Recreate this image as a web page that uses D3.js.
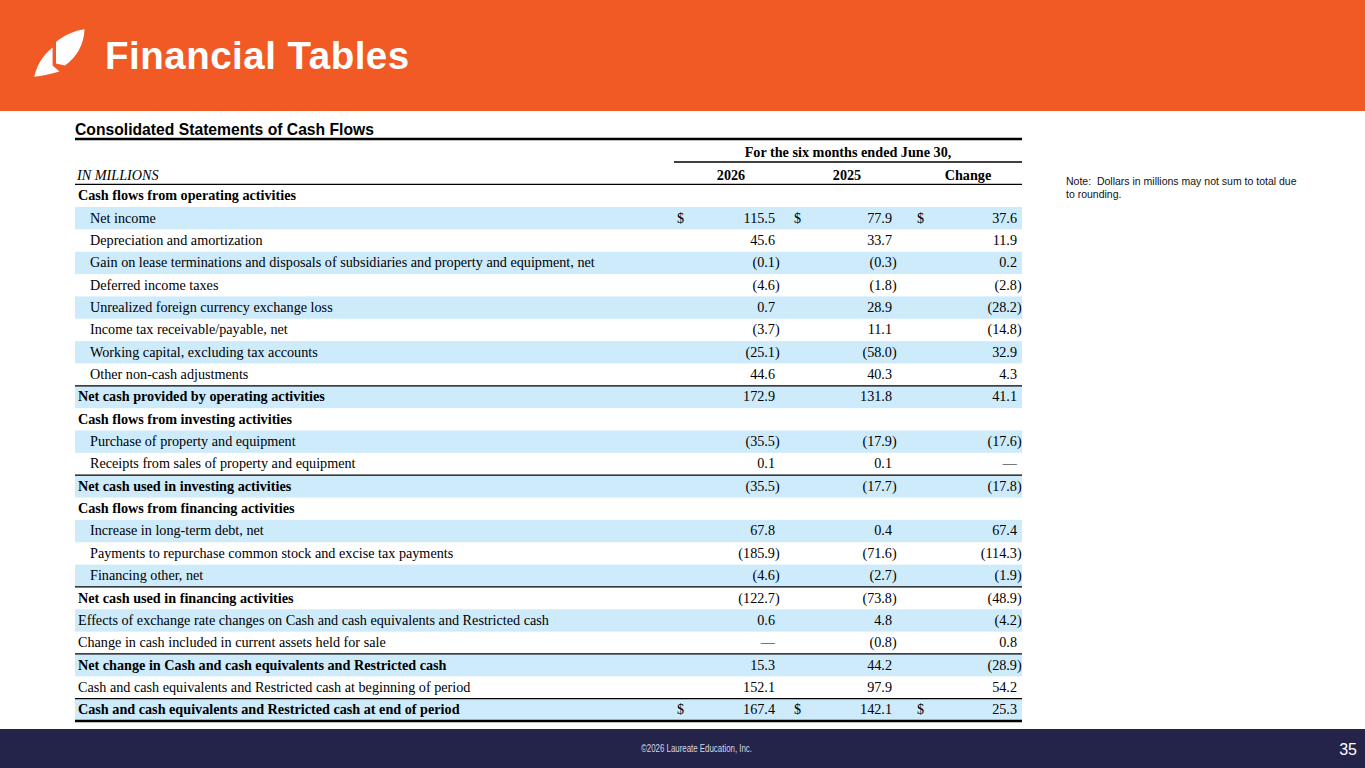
<!DOCTYPE html>
<html>
<head>
<meta charset="utf-8">
<script src="https://cdn.jsdelivr.net/npm/d3@7"></script>
<style>
  html, body { margin: 0; padding: 0; background: #fff; }
  svg { display: block; }
</style>
</head>
<body>
<svg id="chart" width="1365" height="768"></svg>
<script>
// ---------------- DATA ----------------
const rowLabels = [
  "Cash flows from operating activities",
  "Net income",
  "Depreciation and amortization",
  "Gain on lease terminations and disposals of subsidiaries and property and equipment, net",
  "Deferred income taxes",
  "Unrealized foreign currency exchange loss",
  "Income tax receivable/payable, net",
  "Working capital, excluding tax accounts",
  "Other non-cash adjustments",
  "Net cash provided by operating activities",
  "Cash flows from investing activities",
  "Purchase of property and equipment",
  "Receipts from sales of property and equipment",
  "Net cash used in investing activities",
  "Cash flows from financing activities",
  "Increase in long-term debt, net",
  "Payments to repurchase common stock and excise tax payments",
  "Financing other, net",
  "Net cash used in financing activities",
  "Effects of exchange rate changes on Cash and cash equivalents and Restricted cash",
  "Change in cash included in current assets held for sale",
  "Net change in Cash and cash equivalents and Restricted cash",
  "Cash and cash equivalents and Restricted cash at beginning of period",
  "Cash and cash equivalents and Restricted cash at end of period"
];
// h = section header, i = indented item, p = plain item, t = total
const rowKinds = ["h","i","i","i","i","i","i","i","i","t","h","i","i","t","h","i","i","i","t","p","p","t","p","t"];
// null = em dash ("—"); header rows carry no values
const values2026 = [null,115.5,45.6,-0.1,-4.6,0.7,-3.7,-25.1,44.6,172.9,null,-35.5,0.1,-35.5,null,67.8,-185.9,-4.6,-122.7,0.6,null,15.3,152.1,167.4];
const values2025 = [null,77.9,33.7,-0.3,-1.8,28.9,11.1,-58.0,40.3,131.8,null,-17.9,0.1,-17.7,null,0.4,-71.6,-2.7,-73.8,4.8,-0.8,44.2,97.9,142.1];
const valuesChange = [null,37.6,11.9,0.2,-2.8,-28.2,-14.8,32.9,4.3,41.1,null,-17.6,null,-17.8,null,67.4,-114.3,-1.9,-48.9,-4.2,0.8,-28.9,54.2,25.3];
const dollarRows = [1, 23];
const ruleAboveRows = [9, 13, 18, 21, 23];
const columnKeys = ["2026", "2025", "Change"];
const periodHeader = "For the six months ended June 30,";
const unitLabel = "IN MILLIONS";
const slideTitle = "Financial Tables";
const tableTitle = "Consolidated Statements of Cash Flows";
const noteLines = ["Note:  Dollars in millions may not sum to total due", "to rounding."];
const footerText = "©2026 Laureate Education, Inc.";
const pageNumber = "35";

// ---------------- LAYOUT ----------------
const svg = d3.select("#chart");
const W = 1365, H = 768;
const ORANGE = "#f15a24", NAVY = "#24234a", BAND = "#cdebfb";
const SERIF = "'Liberation Serif', 'Times New Roman', serif";
const SANS = "'Liberation Sans', Arial, sans-serif";
const FS = 14.2;
const tableL = 75, tableR = 1022;

const y = d3.scaleBand().domain(d3.range(rowLabels.length)).range([184.7, 721]).paddingInner(0);
const numRight = d3.scaleOrdinal().domain(columnKeys).range([775, 892, 1017]);
const dollarX = d3.scaleOrdinal().domain(columnKeys).range([677, 794, 917]);
const headCenter = d3.scaleOrdinal().domain(columnKeys).range([731, 847, 968]);
const series = { "2026": values2026, "2025": values2025, "Change": valuesChange };

// Header band
svg.append("rect").attr("x", 0).attr("y", 0).attr("width", W).attr("height", 111).attr("fill", ORANGE);
// Logo (two-piece leaf)
svg.append("path")
  .attr("d", "M56,42 C63,36 73,31 84.5,29.3 C84,44 77,57 65,65.5 L56,63.6 Z")
  .attr("fill", "#fff");
svg.append("path")
  .attr("d", "M52.6,47.5 L52.6,65.5 L59.5,71.6 C51,74 42,76 34.3,76.8 C37,65 43,55 52.6,47.5 Z")
  .attr("fill", "#fff");
svg.append("text").attr("x", 105).attr("y", 69)
  .attr("font-family", SANS).attr("font-weight", "bold").attr("font-size", 38.5)
  .attr("letter-spacing", 0.5).attr("fill", "#fff")
  .text(slideTitle);

// Footer band
svg.append("rect").attr("x", 0).attr("y", 729).attr("width", W).attr("height", H - 729).attr("fill", NAVY);
svg.append("text").attr("x", 641).attr("y", 752)
  .attr("font-family", SANS).attr("font-size", 10).attr("fill", "#d8d8e0")
  .attr("textLength", 111).attr("lengthAdjust", "spacingAndGlyphs").text(footerText);
svg.append("text").attr("x", 1357).attr("y", 755).attr("text-anchor", "end")
  .attr("font-family", SANS).attr("font-size", 16).attr("fill", "#fff").text(pageNumber);

// Note
svg.append("g").selectAll("text").data(noteLines).join("text")
  .attr("x", 1066).attr("y", (d, i) => 185 + i * 13)
  .attr("font-family", SANS).attr("font-size", 10.5).attr("fill", "#111")
  .style("white-space", "pre")
  .text(d => d);

// Table title
svg.append("text").attr("x", 75).attr("y", 135)
  .attr("font-family", SANS).attr("font-weight", "bold").attr("font-size", 15.7).attr("fill", "#000")
  .text(tableTitle);
svg.append("line").attr("x1", tableL).attr("x2", tableR).attr("y1", 139).attr("y2", 139)
  .attr("stroke", "#000").attr("stroke-width", 2.5);

// Column headers
svg.append("text").attr("x", 848).attr("y", 157).attr("text-anchor", "middle")
  .attr("font-family", SERIF).attr("font-weight", "bold").attr("font-size", FS).text(periodHeader);
svg.append("line").attr("x1", 674).attr("x2", tableR).attr("y1", 162).attr("y2", 162)
  .attr("stroke", "#000").attr("stroke-width", 1.3);
svg.append("g").selectAll("text").data(columnKeys).join("text")
  .attr("x", d => headCenter(d)).attr("y", 179.5).attr("text-anchor", "middle")
  .attr("font-family", SERIF).attr("font-weight", "bold").attr("font-size", FS).text(d => d);
svg.append("text").attr("x", 77).attr("y", 179.5)
  .attr("font-family", SERIF).attr("font-style", "italic").attr("font-size", FS).text(unitLabel);
svg.append("line").attr("x1", tableL).attr("x2", tableR).attr("y1", 184.3).attr("y2", 184.3)
  .attr("stroke", "#000").attr("stroke-width", 1.3);

// Row groups + shading
const rows = svg.append("g").selectAll("g").data(d3.range(rowLabels.length)).join("g")
  .attr("transform", i => `translate(0,${y(i)})`);
rows.filter(i => i % 2 === 1).append("rect")
  .attr("x", tableL).attr("width", tableR - tableL).attr("y", 0).attr("height", y.bandwidth())
  .attr("fill", BAND);

// Row labels
rows.append("text")
  .attr("x", i => rowKinds[i] === "i" ? 90 : 78)
  .attr("y", 15.6)
  .attr("font-family", SERIF).attr("font-size", FS)
  .attr("font-weight", i => (rowKinds[i] === "h" || rowKinds[i] === "t") ? "bold" : "normal")
  .attr("fill", "#000")
  .text(i => rowLabels[i]);

// Values
const fmt = v => v === null ? "—" : (v < 0 ? "(" + d3.format(".1f")(-v) + ")" : d3.format(".1f")(v));
columnKeys.forEach(key => {
  const vals = series[key];
  rows.filter(i => rowKinds[i] !== "h").append("text")
    .attr("x", i => vals[i] !== null && vals[i] < 0 ? numRight(key) + 4.7 : numRight(key))
    .attr("y", 15.6).attr("text-anchor", "end")
    .attr("font-family", SERIF).attr("font-size", FS).attr("fill", "#000")
    .text(i => fmt(vals[i]));
  rows.filter(i => dollarRows.includes(i)).append("text")
    .attr("x", dollarX(key)).attr("y", 15.6)
    .attr("font-family", SERIF).attr("font-size", FS).attr("fill", "#000")
    .text("$");
});

// Rules
svg.append("g").selectAll("line").data(ruleAboveRows).join("line")
  .attr("x1", tableL).attr("x2", tableR)
  .attr("y1", i => y(i)).attr("y2", i => y(i))
  .attr("stroke", "#000").attr("stroke-width", 1.3);
svg.append("line").attr("x1", tableL).attr("x2", tableR)
  .attr("y1", y(rowLabels.length - 1) + y.bandwidth()).attr("y2", y(rowLabels.length - 1) + y.bandwidth())
  .attr("stroke", "#000").attr("stroke-width", 2.6);
</script>
</body>
</html>
